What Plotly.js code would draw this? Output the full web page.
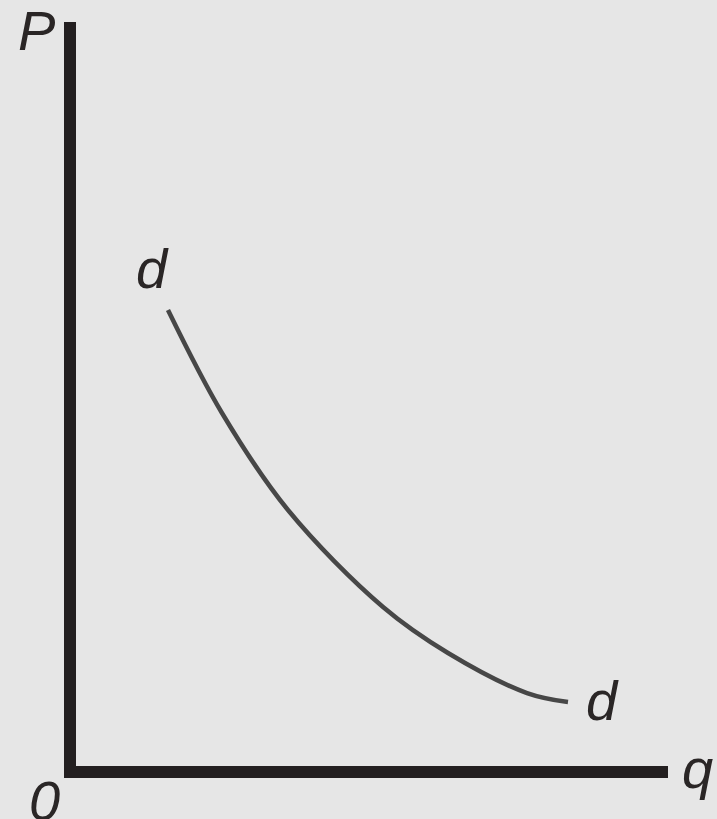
<!DOCTYPE html>
<html>
<head>
<meta charset="utf-8">
<script src="https://cdn.plot.ly/plotly-3.0.1.min.js"></script>
<style>
  html, body { margin: 0; padding: 0; background: #e6e6e6; }
  #chart { width: 717px; height: 819px; }
</style>
</head>
<body>
<div id="chart"></div>
<script>
// Demand curve dd: quantity demanded (q) falls as price (p) rises
var demandQ = [16.33, 25.33, 36.33, 52.17, 63.00, 76.17, 83.00];
var demandP = [61.60, 47.87, 34.93, 22.00, 15.87, 10.53, 9.33];

// Axis names and curve labels
var priceLabel = 'P';
var quantityLabel = 'q';
var originLabel = '0';
var curveLabel = 'd';

var labelFont = { family: 'Liberation Sans, Arial, sans-serif', size: 56, color: '#2a2626' };

// labels are placed in paper coordinates so the ones outside the plot area still show
function label(text, x, y) {
  return {
    text: '<i>' + text + '</i>',
    xref: 'paper', yref: 'paper', x: x, y: y,
    xanchor: 'center', yanchor: 'middle',
    showarrow: false, font: labelFont
  };
}

var trace = {
  x: demandQ,
  y: demandP,
  mode: 'lines',
  line: { color: '#474747', width: 4.5, shape: 'spline', smoothing: 1 },
  hoverinfo: 'skip'
};

var layout = {
  width: 717,
  height: 819,
  margin: { l: 70, r: 47, t: 22, b: 47, pad: 0 },
  paper_bgcolor: '#e6e6e6',
  plot_bgcolor: '#e6e6e6',
  showlegend: false,
  xaxis: { range: [0, 100], visible: false, fixedrange: true },
  yaxis: { range: [0, 100], visible: false, fixedrange: true },
  shapes: [{
    type: 'path',
    xref: 'paper', yref: 'paper',
    path: 'M0,1 L0,0 L0.99667,0',
    line: { color: '#231f20', width: 12 }
  }],
  annotations: [
    label(priceLabel, -0.056, 0.989),
    label(quantityLabel, 1.045, 0.005),
    label(originLabel, -0.043, -0.038),
    label(curveLabel, 0.137, 0.672),
    label(curveLabel, 0.888, 0.096)
  ]
};

Plotly.newPlot('chart', [trace], layout, { staticPlot: true, displayModeBar: false });
</script>
</body>
</html>
